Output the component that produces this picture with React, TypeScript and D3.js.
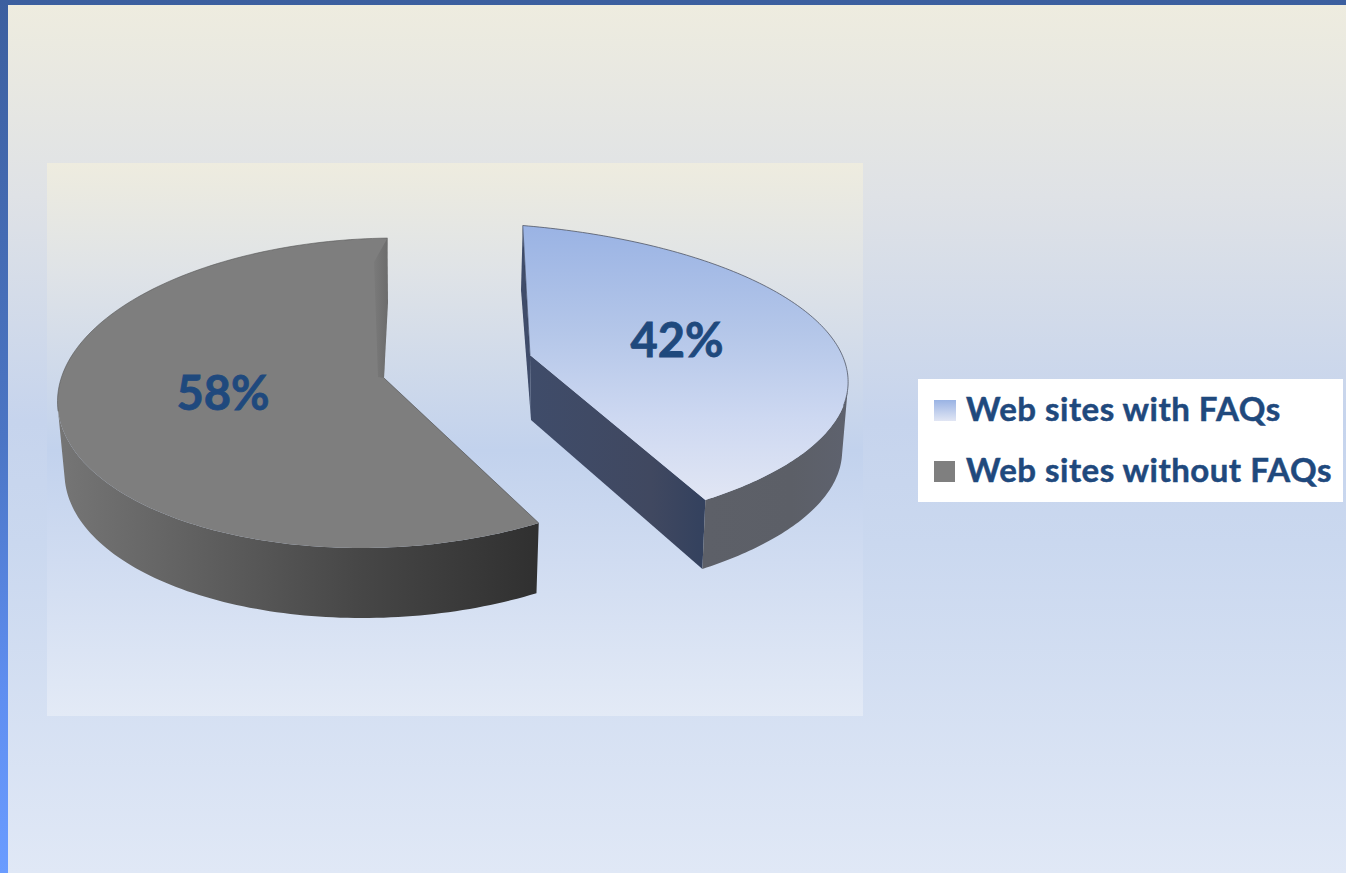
import React from "react";
import * as d3 from "d3";

// Chart content
const categories = ["Web sites with FAQs", "Web sites without FAQs"];
const shares = [42, 58];

const WIDTH = 1346;
const HEIGHT = 873;
const TEXT = "#1f497d";
const FONT = "Lato, Carlito, Calibri, sans-serif";

type Ring = { cx: number; cy: number; a: number; b: number; ry: number };
type SliceStyle = {
  apex: [number, number];
  top: Ring;
  bottom: Ring;
  phiAtStart: number; // ellipse parameter at the slice's first pie angle, degrees
  phiPerDeg: number; // ellipse degrees swept per pie degree
  depth: [number, number];
  label: [number, number];
  rimFrom: number; // share of the arc where the dark back rim begins
  rimTo: number; // share of the arc where it ends
};

// One perspective setup per exploded slice
const sliceStyles: SliceStyle[] = [
  {
    apex: [530, 355],
    top: { cx: 448, cy: 378, a: 400, b: 10, ry: 156 },
    bottom: { cx: 450, cy: 447, a: 392, b: 10, ry: 156 },
    phiAtStart: -77.8,
    phiPerDeg: 0.8545,
    depth: [1, 65],
    label: [677, 357],
    rimFrom: 0,
    rimTo: 0.68,
  },
  {
    apex: [384, 378],
    top: { cx: 379, cy: 393, a: 321, b: -18, ry: 155 },
    bottom: { cx: 380, cy: 464, a: 315, b: -18, ry: 154 },
    phiAtStart: 57,
    phiPerDeg: 1.012,
    depth: [0, 70],
    label: [223, 410],
    rimFrom: 0.55,
    rimTo: 1,
  },
];

const pie = d3
  .pie<number>()
  .sort(null)
  .value((d) => d);

const toDeg = (rad: number) => (rad * 180) / Math.PI;

function ringPoint(r: Ring, phiDeg: number): [number, number] {
  const t = (phiDeg * Math.PI) / 180;
  return [r.cx + r.a * Math.cos(t) + r.b * Math.sin(t), r.cy + r.ry * Math.sin(t)];
}

const line = d3.line<[number, number]>();
const STEPS = 160;

// The curved side is swept as narrow quads in one path; only the ones facing the
// viewer are kept, so the back of the ring never pokes out behind the top face
function wallPath(upper: [number, number][], lower: [number, number][]) {
  return d3
    .range(upper.length - 1)
    .map((i) => {
      const quad: [number, number][] = [upper[i], upper[i + 1], lower[i + 1], lower[i]];
      return d3.polygonArea(quad) > 0 ? line(quad)! + "Z" : "";
    })
    .join("");
}

function Slice({ index, arc }: { index: number; arc: d3.PieArcDatum<number> }) {
  const s = sliceStyles[index];
  const span = toDeg(arc.endAngle - arc.startAngle);
  const phi0 = s.phiAtStart;
  const phi1 = phi0 + span * s.phiPerDeg;
  const phis = d3.range(0, STEPS + 1).map((i) => phi0 + ((phi1 - phi0) * i) / STEPS);
  const topArc = phis.map((p) => ringPoint(s.top, p));
  const bottomArc = phis.map((p) => ringPoint(s.bottom, p));
  const apexLow: [number, number] = [s.apex[0] + s.depth[0], s.apex[1] + s.depth[1]];

  const face = line([s.apex, ...topArc])! + "Z";
  const wall = wallPath(topArc, bottomArc);
  const first = topArc[0];
  const last = topArc[topArc.length - 1];
  const lastLow = bottomArc[bottomArc.length - 1];
  const rim = topArc.slice(Math.round(s.rimFrom * STEPS), Math.round(s.rimTo * STEPS) + 1);

  if (index === 0) {
    return (
      <g>
        <path d={line([first, [521, 290], apexLow, s.apex])! + "Z"} fill="url(#cutBlue)" />
        <path d={line([s.apex, apexLow, lastLow, last])! + "Z"} fill="url(#cutBlue)" />
        <path d={wall} fill="url(#wallBlue)" />
        <path d={face} fill="url(#faceBlue)" />
        <path d={line(rim)!} fill="none" stroke="#4a4f5c" strokeWidth={1} strokeOpacity={0.75} />
        <path d={line([first, s.apex])!} fill="none" stroke="#2f3a55" strokeWidth={1} strokeOpacity={0.6} />
      </g>
    );
  }
  return (
    <g>
      <path d={wall} fill="url(#wallGray)" />
      <path d={face} fill="#7e7e7e" />
      <path
        d={line([last, [388, 303], s.apex, [378, 377], [374, 262]])! + "Z"}
        fill="url(#innerGray)"
      />
      <path d={line(rim)!} fill="none" stroke="#555" strokeWidth={1} strokeOpacity={0.6} />
      <path d={line([first, s.apex])!} fill="none" stroke="#4a4a4a" strokeWidth={1} strokeOpacity={0.6} />
    </g>
  );
}

export default function App() {
  const arcs = pie(shares);
  return (
    <svg
      width={WIDTH}
      height={HEIGHT}
      viewBox={`0 0 ${WIDTH} ${HEIGHT}`}
      style={{ position: "fixed", left: 0, top: 0, display: "block" }}
    >
      <defs>
        <linearGradient id="page" x1="0" y1="0" x2="0" y2="1">
          <stop offset="0" stopColor="#eeecdf" />
          <stop offset="0.22" stopColor="#dfe2e6" />
          <stop offset="0.48" stopColor="#c6d4ed" />
          <stop offset="0.62" stopColor="#cad8ef" />
          <stop offset="1" stopColor="#e0e8f6" />
        </linearGradient>
        <linearGradient id="panel" x1="0" y1="0" x2="0" y2="1">
          <stop offset="0" stopColor="#eeecdf" />
          <stop offset="0.2" stopColor="#dfe3e7" />
          <stop offset="0.52" stopColor="#c2d2ed" />
          <stop offset="0.72" stopColor="#d0dcf1" />
          <stop offset="1" stopColor="#e3eaf6" />
        </linearGradient>
        <linearGradient id="rail" x1="0" y1="0" x2="0" y2="1">
          <stop offset="0" stopColor="#3c5f9f" />
          <stop offset="0.5" stopColor="#4b75c4" />
          <stop offset="0.79" stopColor="#5f8ef0" />
          <stop offset="1" stopColor="#6a9cff" />
        </linearGradient>
        <linearGradient id="faceBlue" gradientUnits="userSpaceOnUse" x1="0" y1="226" x2="0" y2="500">
          <stop offset="0" stopColor="#9ab3e4" />
          <stop offset="0.4" stopColor="#b5c7e9" />
          <stop offset="0.7" stopColor="#cdd8f1" />
          <stop offset="1" stopColor="#e1e6f4" />
        </linearGradient>
        <linearGradient id="swatchBlue" x1="0" y1="0" x2="0" y2="1">
          <stop offset="0" stopColor="#9ab3e4" />
          <stop offset="1" stopColor="#e1e6f4" />
        </linearGradient>
        <linearGradient id="wallBlue" gradientUnits="userSpaceOnUse" x1="705" y1="0" x2="848" y2="0">
          <stop offset="0" stopColor="#5d6068" />
          <stop offset="0.6" stopColor="#5c5f67" />
          <stop offset="1" stopColor="#5e626e" />
        </linearGradient>
        <linearGradient id="cutBlue" gradientUnits="userSpaceOnUse" x1="525" y1="0" x2="706" y2="0">
          <stop offset="0" stopColor="#3f4c6a" />
          <stop offset="0.7" stopColor="#404860" />
          <stop offset="1" stopColor="#33415e" />
        </linearGradient>
        <linearGradient id="wallGray" gradientUnits="userSpaceOnUse" x1="60" y1="0" x2="538" y2="0">
          <stop offset="0" stopColor="#757575" />
          <stop offset="0.3" stopColor="#5f5f5f" />
          <stop offset="0.62" stopColor="#474747" />
          <stop offset="1" stopColor="#303030" />
        </linearGradient>
        <linearGradient id="innerGray" gradientUnits="userSpaceOnUse" x1="372" y1="0" x2="389" y2="0">
          <stop offset="0" stopColor="#7c7c7c" />
          <stop offset="1" stopColor="#6b6b6b" />
        </linearGradient>
      </defs>

      <rect width={WIDTH} height={HEIGHT} fill="url(#rail)" />
      <rect x={8} y={5} width={WIDTH - 8} height={HEIGHT - 5} fill="url(#page)" />
      <rect x={47} y={163} width={816} height={553} fill="url(#panel)" />

      {arcs.map((a, i) => (
        <Slice key={categories[i]} index={i} arc={a} />
      ))}

      {arcs.map((a, i) => (
        <text
          key={`label-${i}`}
          x={sliceStyles[i].label[0]}
          y={sliceStyles[i].label[1]}
          textAnchor="middle"
          fontFamily={FONT}
          fontWeight={700}
          fontSize={47}
          fill={TEXT}
          stroke={TEXT}
          strokeWidth={0.8}
        >
          {`${a.data}%`}
        </text>
      ))}

      <rect x={918} y={379} width={425} height={123} fill="#ffffff" />
      {categories.map((c, i) => (
        <g key={c}>
          <rect
            x={934}
            y={400 + i * 61}
            width={i === 0 ? 22 : 21}
            height={21}
            fill={i === 0 ? "url(#swatchBlue)" : "#7f7f7f"}
          />
          <text
            x={966}
            y={421 + i * 61}
            fontFamily={FONT}
            fontWeight={700}
            fontSize={33}
            letterSpacing={0.5}
            fill={TEXT}
            stroke={TEXT}
            strokeWidth={0.5}
          >
            {c}
          </text>
        </g>
      ))}
    </svg>
  );
}
